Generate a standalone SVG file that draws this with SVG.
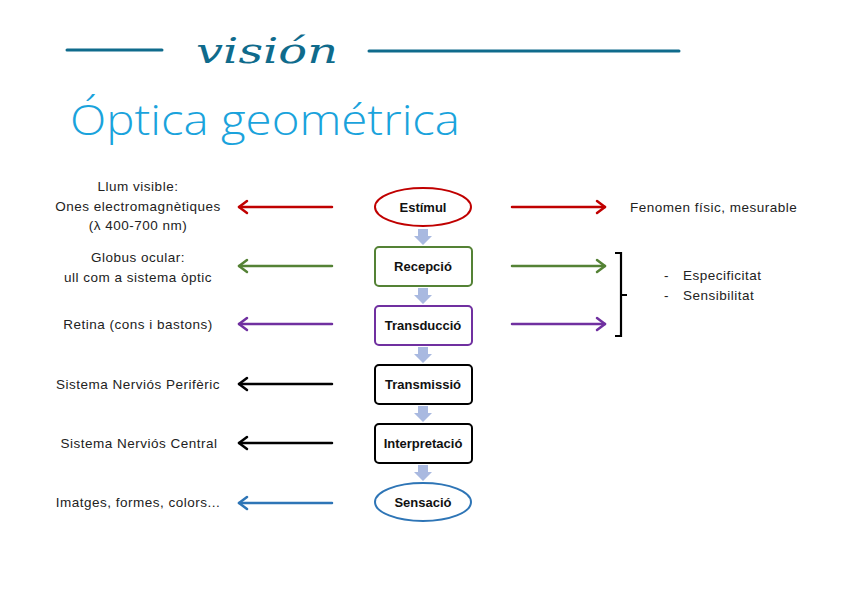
<svg xmlns="http://www.w3.org/2000/svg" width="848" height="599" viewBox="0 0 848 599">
<style>
  .lbl{font-family:"Liberation Sans",Arial,sans-serif;font-size:13.5px;letter-spacing:0.5px;fill:#222}
  .node{font-family:"Liberation Sans",Arial,sans-serif;font-size:13px;font-weight:bold;fill:#111;text-anchor:middle}
  .box{fill:#fff;stroke-width:2}
  .ln{fill:none;stroke-width:2.5;stroke-linecap:round;stroke-linejoin:round}
  .down{fill:#a9b9e0}
</style>
<rect width="848" height="599" fill="#fff"/>
<g id="title">
  <line x1="67" y1="50" x2="162" y2="50" stroke="#0f6b8c" stroke-width="3" stroke-linecap="round"/>
  <line x1="369" y1="51" x2="679" y2="51" stroke="#0f6b8c" stroke-width="3" stroke-linecap="round"/>
  <text x="196" y="63" font-family="DejaVu Serif, serif" font-style="italic" font-size="36" fill="#0f6b8c" textLength="142" lengthAdjust="spacingAndGlyphs">visión</text>
  <text x="70" y="135" font-family="Open Sans, sans-serif" font-weight="300" font-size="42" fill="#1aa3dc" textLength="390" lengthAdjust="spacingAndGlyphs">Óptica geométrica</text>
</g>
<g id="connectors">
  <g stroke="#c00000" class="ln"><line x1="332" y1="207" x2="239" y2="207"/><polyline points="247,201 239,207 247,213"/><line x1="512" y1="207" x2="605" y2="207"/><polyline points="597,201 605,207 597,213"/></g>
  <g stroke="#548235" class="ln"><line x1="332" y1="266" x2="239" y2="266"/><polyline points="247,260 239,266 247,272"/><line x1="512" y1="266" x2="605" y2="266"/><polyline points="597,260 605,266 597,272"/></g>
  <g stroke="#7030a0" class="ln"><line x1="332" y1="324" x2="239" y2="324"/><polyline points="247,318 239,324 247,330"/><line x1="512" y1="324" x2="605" y2="324"/><polyline points="597,318 605,324 597,330"/></g>
  <g stroke="#000" class="ln"><line x1="332" y1="384" x2="239" y2="384"/><polyline points="247,378 239,384 247,390"/></g>
  <g stroke="#000" class="ln"><line x1="332" y1="443" x2="239" y2="443"/><polyline points="247,437 239,443 247,449"/></g>
  <g stroke="#2e75b6" class="ln"><line x1="332" y1="503" x2="239" y2="503"/><polyline points="247,497 239,503 247,509"/></g>
  <g class="down">
    <polygon points="418,229 428,229 428,236 432,236 423,245 414,236 418,236"/>
    <polygon points="418,288 428,288 428,295 432,295 423,304 414,295 418,295"/>
    <polygon points="418,347 428,347 428,354 432,354 423,363 414,354 418,354"/>
    <polygon points="418,406 428,406 428,413 432,413 423,422 414,413 418,413"/>
    <polygon points="418,465 428,465 428,472 432,472 423,481 414,472 418,472"/>
  </g>
  <path d="M615,253 H621 V336 H615 M621,295 H627" fill="none" stroke="#000" stroke-width="2.2"/>
</g>
<g id="estimul"><ellipse cx="423" cy="207" rx="48" ry="19" class="box" stroke="#c00000" stroke-width="2.5"/><text x="423" y="212" class="node">Estímul</text></g>
<g id="recepcio"><rect x="375" y="247" width="97" height="39" rx="4" class="box" stroke="#548235"/><text x="423" y="271" class="node">Recepció</text></g>
<g id="transduccio"><rect x="375" y="306" width="97" height="39" rx="4" class="box" stroke="#7030a0"/><text x="423" y="330" class="node">Transducció</text></g>
<g id="transmissio"><rect x="375" y="365" width="97" height="39" rx="4" class="box" stroke="#000"/><text x="423" y="389" class="node">Transmissió</text></g>
<g id="interpretacio"><rect x="375" y="424" width="97" height="39" rx="4" class="box" stroke="#000"/><text x="423" y="448" class="node">Interpretació</text></g>
<g id="sensacio"><ellipse cx="423" cy="502" rx="48" ry="19" class="box" stroke="#2e75b6" stroke-width="2.5"/><text x="423" y="507" class="node">Sensació</text></g>
<g id="left-labels" class="lbl" text-anchor="middle">
  <text x="138" y="191">Llum visible:</text>
  <text x="138" y="211">Ones electromagnètiques</text>
  <text x="138" y="230">(λ 400-700 nm)</text>
  <text x="138" y="262">Globus ocular:</text>
  <text x="138" y="282">ull com a sistema òptic</text>
  <text x="138" y="329">Retina (cons i bastons)</text>
  <text x="138" y="389">Sistema Nerviós Perifèric</text>
  <text x="139" y="448">Sistema Nerviós Central</text>
  <text x="138" y="507">Imatges, formes, colors...</text>
</g>
<g id="right-labels" class="lbl">
  <text x="630" y="212">Fenomen físic, mesurable</text>
  <text x="664" y="280">-</text><text x="683" y="280">Especificitat</text>
  <text x="664" y="300">-</text><text x="683" y="300">Sensibilitat</text>
</g>
</svg>
